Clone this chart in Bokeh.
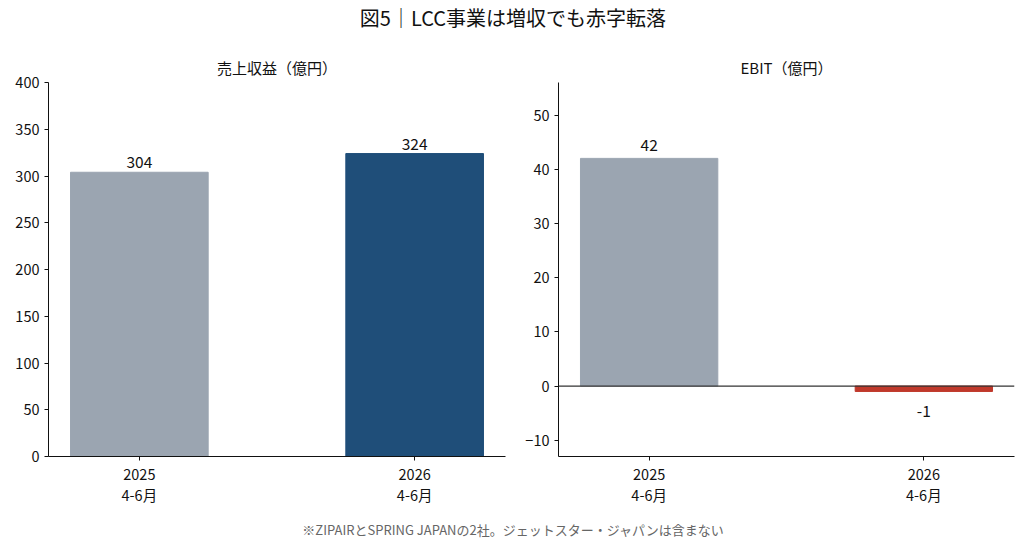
from bokeh.plotting import figure
from bokeh.models import Div, Span, FixedTicker, ColumnDataSource, Range1d
from bokeh.layouts import column, row
from bokeh.embed import file_html
from bokeh.resources import INLINE

FONT = "Noto Sans CJK JP"

main_title = "図5｜LCC事業は増収でも赤字転落"
footnote = "※ZIPAIRとSPRING JAPANの2社。ジェットスター・ジャパンは含まない"
periods = ["2025\n4-6月", "2026\n4-6月"]
revenue = [304, 324]
ebit = [42, -1]
revenue_colors = ["#9BA5B1", "#1F4E79"]
ebit_colors = ["#9BA5B1", "#C0392B"]


def base_fig(title, width, yr, yticks, border_left, border_right):
    p = figure(width=width, height=464, output_backend="svg", toolbar_location=None,
               x_range=Range1d(-0.33, 1.33), y_range=yr, title=title,
               min_border_left=border_left, min_border_right=border_right,
               min_border_top=35, min_border_bottom=55)
    p.title.text_font = FONT
    p.title.text_font_size = "15px"
    p.title.text_font_style = "normal"
    p.title.align = "center"
    p.title.text_color = "#111111"
    p.outline_line_color = None
    p.xgrid.visible = False
    p.ygrid.visible = False
    p.background_fill_color = "white"
    p.border_fill_color = "white"
    for ax in (p.xaxis[0], p.yaxis[0]):
        ax.axis_line_color = "#111111"
        ax.major_tick_line_color = "#111111"
        ax.major_tick_out = 4
        ax.major_tick_in = 0
        ax.minor_tick_line_color = None
        ax.major_label_text_font = FONT
        ax.major_label_text_font_size = "14.5px"
        ax.major_label_text_color = "#111111"
    p.xaxis.ticker = FixedTicker(ticks=[0, 1])
    p.xaxis.major_label_overrides = {i: lab for i, lab in enumerate(periods)}
    p.xaxis.major_label_standoff = 2
    p.xaxis.major_label_text_line_height = 1.0
    p.yaxis.ticker = FixedTicker(ticks=yticks)
    return p


# Left: revenue
p1 = base_fig("売上収益（億円）", 520, Range1d(0, 400), list(range(0, 401, 50)), 48, 15)
src1 = ColumnDataSource(dict(x=[0, 1], top=revenue, color=revenue_colors,
                             label=[str(v) for v in revenue]))
p1.vbar(x="x", top="top", bottom=0, width=0.5, color="color", source=src1)
p1.text(x="x", y="top", text="label", source=src1, text_align="center",
        text_baseline="bottom", y_offset=-4, text_font_size="15.5px",
        text_color="#111111", text_font={"value": FONT})

# Right: EBIT
p2 = base_fig("EBIT（億円）", 496, Range1d(-13, 56), [-10, 0, 10, 20, 30, 40, 50], 38, 2)
p2.add_layout(Span(location=0, dimension="width", line_color="#333333", line_width=1.2))
src2 = ColumnDataSource(dict(x=[0, 1], top=ebit, color=ebit_colors))
p2.vbar(x="x", top="top", bottom=0, width=0.5, color="color", source=src2)
pos = [i for i, v in enumerate(ebit) if v >= 0]
neg = [i for i, v in enumerate(ebit) if v < 0]
p2.text(x=pos, y=[ebit[i] for i in pos], text=[str(ebit[i]) for i in pos],
        text_align="center", text_baseline="bottom", y_offset=-7,
        text_font_size="15.5px", text_color="#111111", text_font={"value": FONT})
p2.text(x=neg, y=[ebit[i] for i in neg], text=[str(ebit[i]) for i in neg],
        text_align="center", text_baseline="top", y_offset=14,
        text_font_size="15.5px", text_color="#111111", text_font={"value": FONT})

title_div = Div(text=main_title, width=1016, height=37,
                styles={"font-family": FONT, "font-size": "20px", "color": "#111111",
                        "font-weight": "400", "text-align": "center", "width": "1016px",
                        "line-height": "26px"})
foot_div = Div(text=footnote, width=1016, height=30,
               styles={"font-family": FONT, "font-size": "13px", "color": "#666666",
                       "text-align": "center", "width": "1016px", "line-height": "28px"})

layout = column(title_div, row(p1, p2), foot_div)
open("out.html", "w").write(file_html(layout, INLINE))
